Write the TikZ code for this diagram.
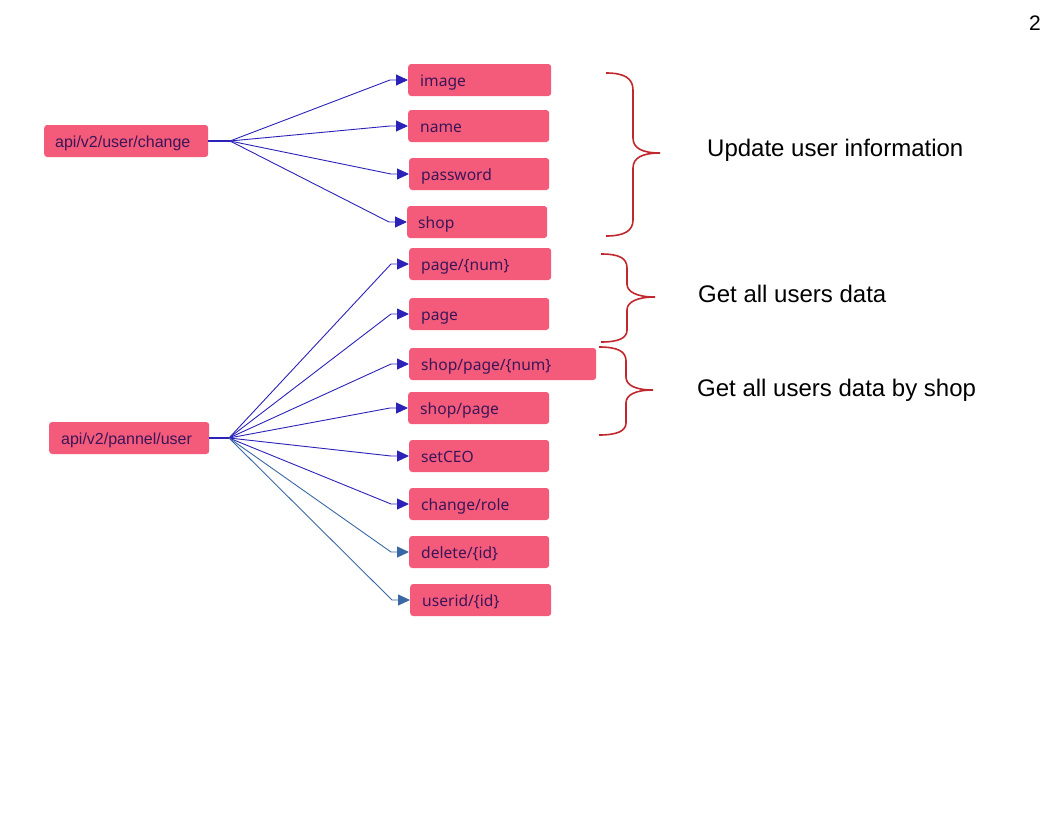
\documentclass[tikz,border=0pt]{standalone}
\usepackage{fontspec}
\setmainfont{Liberation Sans}
\newfontfamily\boxfont{Noto Sans}
\usetikzlibrary{arrows.meta,calc}
\definecolor{boxfill}{HTML}{F45B7B}
\definecolor{boxtext}{HTML}{3A1658}
\definecolor{conn}{HTML}{2B22B8}
\definecolor{connb}{HTML}{3A68A4}
\definecolor{bracered}{HTML}{C0282E}
\begin{document}
\begin{tikzpicture}[x=1pt,y=-1pt,
  epbox/.style={fill=boxfill, rounded corners=3pt, anchor=west, minimum height=32pt,
     inner xsep=12pt, inner ysep=0pt, text height=13pt, text depth=1pt, align=left, text=boxtext,
     font=\boxfont\fontsize{15.6}{18}\selectfont},
  srcbox/.style={epbox, font=\fontsize{16}{18}\selectfont},
  link/.style={draw=conn, line width=0.9pt, -{Triangle[length=12pt,width=11pt]}},
  linkb/.style={draw=connb, line width=0.9pt, -{Triangle[length=12pt,width=11pt]}},
  stub/.style={draw=conn, line width=2pt},
  brace/.style={draw=bracered, line width=1.6pt},
  lbl/.style={anchor=west, inner sep=0pt, font=\fontsize{24}{28}\selectfont, text=black}]
\useasboundingbox (0,0) rectangle (1056,816);
\node[anchor=center, font=\fontsize{21}{25}\selectfont] (pg) at (1035,23) {2};

% sources
\node[srcbox, text width=142pt, inner xsep=11pt] (src1) at (44,141) {api/v2/user/change};
\node[srcbox, text width=136pt] (src2) at (49,438) {api/v2/pannel/user};

% targets
\node[epbox, text width=119pt] (image) at (408,80) {image};
\node[epbox, text width=117pt] (name) at (408,126) {name};
\node[epbox, text width=116pt] (password) at (409,174) {password};
\node[epbox, text width=118pt, inner xsep=11pt] (shop) at (407,222) {shop};
\node[epbox, text width=118pt] (pagenum) at (409,264) {page/\{num\}};
\node[epbox, text width=116pt] (page) at (409,314) {page};
\node[epbox, text width=163pt] (shoppagenum) at (409,364) {shop/page/\{num\}};
\node[epbox, text width=117pt] (shoppage) at (408,408) {shop/page};
\node[epbox, text width=116pt] (setceo) at (409,456) {setCEO};
\node[epbox, text width=116pt] (changerole) at (409,504) {change/role};
\node[epbox, text width=116pt] (delete) at (409,552) {delete/\{id\}};
\node[epbox, text width=117pt] (userid) at (410,600) {userid/\{id\}};

% fan points
\coordinate (f1) at (230,141);
\coordinate (f2) at (229,438);
\draw[stub] (src1.east) -- (f1);
\draw[stub] (src2.east) -- (f2);

\foreach \t in {image,name,password,shop}
  \draw[link] (f1) -- ($(\t.west)+(-18,0)$) -- (\t.west);
\foreach \t in {pagenum,page,shoppagenum,shoppage,setceo,changerole}
  \draw[link] (f2) -- ($(\t.west)+(-18,0)$) -- (\t.west);
\foreach \t in {delete,userid}
  \draw[linkb] (f2) -- ($(\t.west)+(-18,0)$) -- (\t.west);

% braces
\draw[brace] (606,73) .. controls (624,73) and (633,78) .. (633,90) -- (633,138)
  .. controls (633,148) and (642,153) .. (660,153)
  .. controls (642,153) and (633,158) .. (633,168) -- (633,220)
  .. controls (633,231) and (624,236) .. (606,236);
\draw[brace] (601,254) .. controls (619,254) and (627,258) .. (627,268) -- (627,284)
  .. controls (627,292) and (637,297) .. (655,297)
  .. controls (637,297) and (627,302) .. (627,310) -- (627,330)
  .. controls (627,338) and (619,342) .. (601,342);
\draw[brace] (599,347) .. controls (617,347) and (626,351) .. (626,361) -- (626,377)
  .. controls (626,385) and (635,390) .. (653,390)
  .. controls (635,390) and (626,395) .. (626,403) -- (626,423)
  .. controls (626,431) and (617,435) .. (599,435);

\node[lbl] (l1) at (707,150) {Update user information};
\node[lbl] (l2) at (698,294) {Get all users data};
\node[lbl] (l3) at (697,390) {Get all users data by shop};
\end{tikzpicture}
\end{document}
